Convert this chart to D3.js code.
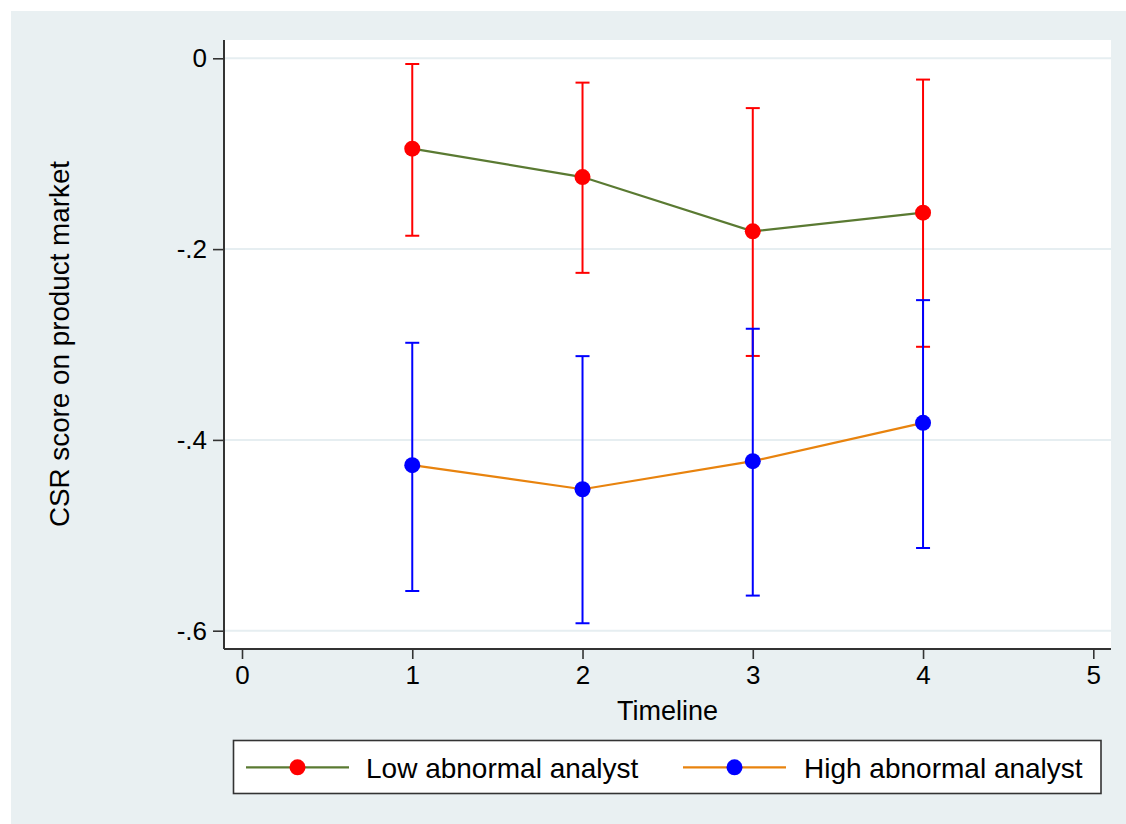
<!DOCTYPE html>
<html>
<head>
<meta charset="utf-8">
<script src="https://cdn.jsdelivr.net/npm/d3@7"></script>
<style>
  html, body { margin: 0; padding: 0; background: #ffffff; }
  svg { display: block; }
  text { font-family: "Liberation Sans", Arial, Helvetica, sans-serif; fill: #000; }
</style>
</head>
<body>
<svg id="chart" width="1126" height="824"></svg>
<script>
// ---- data ----
const timeline = [1, 2, 3, 4];
const lowMean  = [-0.0947, -0.1245, -0.1814, -0.1618];
const lowUpper = [-0.0060, -0.0255, -0.0522, -0.0223];
const lowLower = [-0.1860, -0.2249, -0.3120, -0.3024];
const highMean  = [-0.4265, -0.4517, -0.4223, -0.3821];
const highUpper = [-0.2982, -0.3122, -0.2835, -0.2535];
const highLower = [-0.5584, -0.5922, -0.5632, -0.5133];
const xTicks = [0, 1, 2, 3, 4, 5];
const yTicks = [0, -0.2, -0.4, -0.6];
const yTickLabels = ["0", "-.2", "-.4", "-.6"];
const legendLabels = ["Low abnormal analyst", "High abnormal analyst"];

const bg = "#e9f0f2";
const svg = d3.select("#chart");

// outer background
svg.append("rect").attr("x", 11).attr("y", 11).attr("width", 1115).attr("height", 813).attr("fill", bg);

// plot region
const plot = { left: 224, right: 1111, top: 40, bottom: 649 };
svg.append("rect").attr("x", plot.left).attr("y", plot.top)
  .attr("width", plot.right - plot.left).attr("height", plot.bottom - plot.top).attr("fill", "#ffffff");

const x = d3.scaleLinear().domain([0, 5]).range([242, 1093.3]);
const y = d3.scaleLinear().domain([-0.6, 0]).range([630.7, 58.3]);

// gridlines
svg.append("g").selectAll("line").data(yTicks).join("line")
  .attr("x1", plot.left).attr("x2", plot.right)
  .attr("y1", d => y(d)).attr("y2", d => y(d))
  .attr("stroke", "#e6eef1").attr("stroke-width", 2);

// y axis
const yAxis = d3.axisLeft(y).tickValues(yTicks)
  .tickFormat((d, i) => yTickLabels[i]).tickSize(11).tickPadding(6);
const gy = svg.append("g").attr("transform", `translate(${plot.left},0)`).call(yAxis);
gy.select(".domain").remove();
gy.append("line").attr("x1", 0).attr("x2", 0).attr("y1", plot.top).attr("y2", plot.bottom)
  .attr("stroke", "#333").attr("stroke-width", 2);
gy.selectAll(".tick line").attr("stroke", "#333").attr("stroke-width", 1.6);
gy.selectAll(".tick text").attr("font-size", 26).attr("fill", "#000")
  .style("font-family", '"Liberation Sans", Arial, sans-serif');

// x axis
const xAxis = d3.axisBottom(x).tickValues(xTicks).tickFormat(d3.format("d")).tickSize(10).tickPadding(7);
const gx = svg.append("g").attr("transform", `translate(0,${plot.bottom})`).call(xAxis);
gx.select(".domain").remove();
gx.append("line").attr("x1", plot.left).attr("x2", plot.right).attr("y1", 0).attr("y2", 0)
  .attr("stroke", "#333").attr("stroke-width", 2);
gx.selectAll(".tick line").attr("stroke", "#333").attr("stroke-width", 1.6);
gx.selectAll(".tick text").attr("font-size", 26).attr("fill", "#000")
  .style("font-family", '"Liberation Sans", Arial, sans-serif');

// axis titles
svg.append("text").attr("x", 667.5).attr("y", 719.5).attr("text-anchor", "middle")
  .attr("font-size", 27).text("Timeline");
svg.append("text").attr("transform", "translate(69,344) rotate(-90)").attr("text-anchor", "middle")
  .attr("font-size", 27.8).text("CSR score on product market");

// series
const series = [
  { mean: lowMean, upper: lowUpper, lower: lowLower, line: "#5a7a32", marker: "#ff0000" },
  { mean: highMean, upper: highUpper, lower: highLower, line: "#e8830e", marker: "#0000ff" }
];

const lineGen = d3.line().x(d => x(d.t)).y(d => y(d.v));

series.forEach(s => {
  const pts = timeline.map((t, i) => ({ t, v: s.mean[i] }));
  svg.append("path").datum(pts).attr("d", lineGen)
    .attr("fill", "none").attr("stroke", s.line).attr("stroke-width", 2.2);
});

series.forEach(s => {
  const g = svg.append("g");
  const rows = timeline.map((t, i) => ({ t, lo: s.lower[i], hi: s.upper[i] }));
  g.selectAll("line.v").data(rows).join("line")
    .attr("x1", d => x(d.t)).attr("x2", d => x(d.t))
    .attr("y1", d => y(d.hi)).attr("y2", d => y(d.lo))
    .attr("stroke", s.marker).attr("stroke-width", 2);
  g.selectAll("line.hi").data(rows).join("line")
    .attr("x1", d => x(d.t) - 7).attr("x2", d => x(d.t) + 7)
    .attr("y1", d => y(d.hi)).attr("y2", d => y(d.hi))
    .attr("stroke", s.marker).attr("stroke-width", 2);
  g.selectAll("line.lo").data(rows).join("line")
    .attr("x1", d => x(d.t) - 7).attr("x2", d => x(d.t) + 7)
    .attr("y1", d => y(d.lo)).attr("y2", d => y(d.lo))
    .attr("stroke", s.marker).attr("stroke-width", 2);
});

series.forEach(s => {
  svg.append("g").selectAll("circle").data(timeline.map((t, i) => ({ t, v: s.mean[i] }))).join("circle")
    .attr("cx", d => x(d.t)).attr("cy", d => y(d.v)).attr("r", 8).attr("fill", s.marker);
});

// legend
const lg = svg.append("g");
lg.append("rect").attr("x", 233.5).attr("y", 740.5).attr("width", 867.5).attr("height", 53)
  .attr("fill", "#ffffff").attr("stroke", "#333").attr("stroke-width", 1.6);
const legendItems = [
  { x0: 246, x1: 349, text: 366 },
  { x0: 683, x1: 786, text: 804 }
];
legendItems.forEach((it, i) => {
  const s = series[i];
  lg.append("line").attr("x1", it.x0).attr("x2", it.x1).attr("y1", 767.3).attr("y2", 767.3)
    .attr("stroke", s.line).attr("stroke-width", 2.2);
  lg.append("circle").attr("cx", (it.x0 + it.x1) / 2).attr("cy", 767.3).attr("r", 8).attr("fill", s.marker);
  lg.append("text").attr("x", it.text).attr("y", 777.8).attr("font-size", 28).text(legendLabels[i]);
});
</script>
</body>
</html>
